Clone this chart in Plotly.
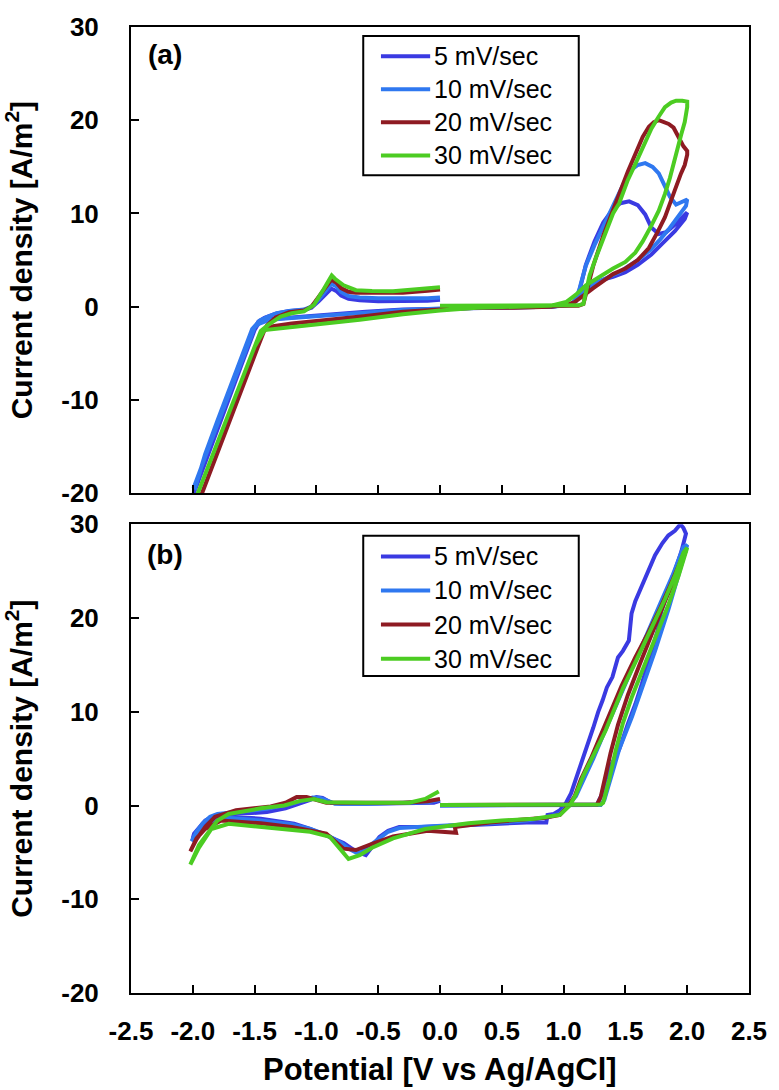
import plotly.graph_objects as go

# ---------------- data ----------------
SERIES = ["5 mV/sec", "10 mV/sec", "20 mV/sec", "30 mV/sec"]
COLORS = ["#3a3ae2", "#2f78f0", "#8e1b22", "#4ccc22"]

X_TICKS = [-2.5, -2.0, -1.5, -1.0, -0.5, 0.0, 0.5, 1.0, 1.5, 2.0, 2.5]
X_TICK_LABELS = ["-2.5", "-2.0", "-1.5", "-1.0", "-0.5", "0.0", "0.5", "1.0", "1.5", "2.0", "2.5"]
Y_TICKS = [-20, -10, 0, 10, 20, 30]
Y_TICK_LABELS = ["-20", "-10", "0", "10", "20", "30"]

# Panel (a)
A5_X = [0.0, 0.3, 0.6, 0.9, 1.05, 1.10, 1.13, 1.18, 1.25, 1.32, 1.40, 1.46, 1.53, 1.60, 1.66, 1.71, 1.77, 1.83, 1.90, 1.96, 2.00,
        1.98, 1.90, 1.80, 1.71, 1.60, 1.50, 1.40, 1.32, 1.25, 1.18, 1.12, 1.06, 0.90, 0.60, 0.30, 0.00, -0.30, -0.60, -0.90, -1.20, -1.38, -1.46,
        -1.50, -1.60, -1.70, -1.80, -1.90, -2.00,
        -1.99, -1.90, -1.80, -1.70, -1.60, -1.52, -1.47, -1.42, -1.33, -1.22, -1.10, -1.04, -0.98, -0.93, -0.88, -0.84, -0.80, -0.74, -0.65,
        -0.50, -0.30, -0.10, 0.00]
A5_Y = [0.0, 0.0, 0.0, 0.05, 0.2, 0.6, 1.8, 4.5, 7.0, 9.0, 10.5, 11.1, 11.3, 10.9, 9.9, 8.5, 7.8, 8.0, 8.8, 9.6, 10.1,
        9.4, 8.1, 6.8, 5.6, 4.5, 3.7, 3.2, 2.9, 2.5, 1.9, 1.0, 0.2, 0.0, -0.05, -0.1, -0.15, -0.3, -0.55, -0.85, -1.15, -1.35, -1.6,
        -2.5, -6.0, -9.5, -13.0, -16.5, -20.3,
        -19.9, -16.3, -12.7, -9.2, -5.7, -2.9, -1.6, -1.2, -0.75, -0.45, -0.35, -0.1, 0.6, 1.3, 1.95, 1.7, 1.2, 0.85, 0.7,
        0.6, 0.6, 0.65, 0.75]

A10_X = [0.0, 0.3, 0.6, 0.9, 1.05, 1.10, 1.13, 1.18, 1.25, 1.32, 1.40, 1.45, 1.50, 1.55, 1.60, 1.66, 1.72, 1.77, 1.82, 1.86, 1.91, 1.96, 2.00,
         1.99, 1.93, 1.85, 1.78, 1.71, 1.60, 1.50, 1.45, 1.38, 1.30, 1.24, 1.18, 1.12, 1.06, 0.90, 0.60, 0.30, 0.00, -0.30, -0.60, -0.90,
         -1.20, -1.38, -1.46, -1.50, -1.60, -1.70, -1.80, -1.90, -1.99,
         -1.98, -1.90, -1.80, -1.70, -1.60, -1.52, -1.46, -1.40, -1.32, -1.22, -1.10, -1.04, -0.98, -0.93, -0.88, -0.84, -0.80, -0.74, -0.65,
         -0.50, -0.30, -0.10, 0.00]
A10_Y = [0.0, 0.0, 0.0, 0.05, 0.2, 0.7, 2.0, 4.4, 6.6, 8.6, 10.9, 12.3, 13.6, 14.7, 15.2, 15.4, 15.0, 14.3, 13.0, 11.8, 10.95, 11.2, 11.5,
         10.8, 9.7, 8.3, 7.2, 6.2, 5.0, 4.1, 3.7, 3.3, 2.8, 2.4, 2.0, 1.1, 0.25, 0.0, -0.05, -0.1, -0.2, -0.35, -0.6, -0.9,
         -1.2, -1.4, -1.8, -2.2, -5.6, -9.1, -12.6, -16.1, -19.3,
         -19.4, -15.8, -12.2, -8.7, -5.2, -2.4, -1.5, -1.1, -0.7, -0.45, -0.3, 0.0, 0.8, 1.6, 2.45, 2.2, 1.6, 1.15, 1.0,
         0.9, 0.85, 0.9, 1.0]

A20_X = [0.0, 0.3, 0.6, 0.9, 1.05, 1.12, 1.16, 1.20, 1.24, 1.32, 1.40, 1.45, 1.52, 1.58, 1.64, 1.69, 1.73, 1.77, 1.82, 1.85, 1.89, 1.93, 1.97, 2.00, 2.00,
         1.98, 1.95, 1.90, 1.86, 1.82, 1.76, 1.69, 1.60, 1.50, 1.40, 1.32, 1.24, 1.16, 1.09, 1.02, 0.90, 0.60, 0.30, 0.00, -0.30, -0.60, -0.90,
         -1.20, -1.35, -1.42, -1.47, -1.55, -1.65, -1.75, -1.85, -1.95, -2.00,
         -1.98, -1.90, -1.80, -1.70, -1.60, -1.50, -1.44, -1.40, -1.33, -1.22, -1.10, -1.04, -0.98, -0.93, -0.88, -0.84, -0.80, -0.74, -0.68,
         -0.50, -0.30, -0.10, 0.00]
A20_Y = [0.0, 0.0, 0.0, 0.05, 0.1, 0.1, 0.3, 2.4, 4.4, 7.6, 10.5, 12.1, 14.5, 16.4, 18.2, 19.3, 19.8, 20.0, 19.8, 19.6, 19.2, 18.2, 17.2, 16.7, 16.3,
         15.2, 14.3, 12.5, 11.0, 9.6, 8.0, 6.3, 5.0, 4.1, 3.5, 2.8, 2.0, 1.2, 0.5, 0.2, 0.0, -0.1, -0.1, -0.3, -0.55, -1.0, -1.35,
         -1.8, -2.1, -2.5, -4.2, -7.0, -10.5, -13.9, -17.4, -20.9, -22.6,
         -21.9, -19.1, -15.6, -12.1, -8.6, -5.1, -3.0, -2.0, -1.15, -0.6, -0.4, 0.0, 1.0, 2.0, 2.9, 2.6, 2.0, 1.6, 1.5,
         1.45, 1.5, 1.7, 1.85]

A30_X = [0.0, 0.3, 0.6, 0.9, 1.05, 1.12, 1.16, 1.21, 1.26, 1.32, 1.40, 1.45, 1.52, 1.58, 1.65, 1.71, 1.77, 1.82, 1.87, 1.91, 1.96, 2.00,
         2.00, 1.98, 1.95, 1.90, 1.86, 1.82, 1.77, 1.71, 1.64, 1.58, 1.50, 1.40, 1.30, 1.18, 1.10, 1.02, 0.90, 0.60, 0.30, 0.00, -0.30, -0.65,
         -1.00, -1.25, -1.42, -1.50, -1.60, -1.70, -1.80, -1.90, -2.00,
         -1.98, -1.90, -1.80, -1.70, -1.60, -1.50, -1.45, -1.39, -1.29, -1.20, -1.10, -1.02, -0.98, -0.94, -0.90, -0.876, -0.85, -0.78, -0.68,
         -0.55, -0.38, -0.20, 0.00]
A30_Y = [0.1, 0.1, 0.1, 0.1, 0.15, 0.15, 0.3, 3.35, 5.2, 7.2, 10.0, 11.1, 13.6, 15.3, 17.3, 19.1, 20.4, 21.4, 21.9, 22.1, 22.1, 22.0,
         21.4, 19.8, 18.4, 15.7, 13.8, 12.1, 10.3, 8.7, 7.0, 5.8, 4.8, 4.1, 3.3, 2.3, 1.3, 0.5, 0.1, -0.05, -0.1, -0.4, -0.8, -1.4,
         -1.9, -2.3, -2.5, -4.3, -7.7, -11.1, -14.5, -18.0, -21.4,
         -20.7, -17.9, -14.4, -11.0, -7.6, -4.2, -2.6, -1.95, -1.06, -0.7, -0.5, 0.2, 1.0, 1.9, 2.8, 3.35, 3.0, 2.3, 1.77,
         1.68, 1.67, 1.85, 2.1]

# Panel (b)
B5_X = [0.0, 0.3, 0.6, 0.9, 1.1, 1.27, 1.31, 1.34, 1.38, 1.45, 1.52, 1.58, 1.634, 1.70, 1.76, 1.79, 1.85, 1.90, 1.953, 1.99,
        1.97, 1.945, 1.926, 1.90, 1.847, 1.80, 1.74, 1.66, 1.58, 1.55, 1.528, 1.48, 1.44, 1.395, 1.35, 1.315, 1.28, 1.24, 1.182, 1.15,
        1.10, 1.06, 1.02, 0.97, 0.92, 0.87, 0.86, 0.70, 0.40, 0.10, -0.15, -0.33, -0.42, -0.49, -0.55, -0.60, -0.68, -0.78, -0.92,
        -1.05, -1.18, -1.45, -1.71, -1.82, -1.93, -2.00,
        -1.99, -1.95, -1.90, -1.82, -1.70, -1.55, -1.40, -1.25, -1.15, -1.05, -1.00, -0.95, -0.88, -0.80, -0.60, -0.40, -0.20, -0.05, 0.00]
B5_Y = [0.0, 0.0, 0.0, 0.0, 0.0, 0.1, 1.2, 2.8, 4.2, 6.0, 8.7, 10.8, 13.0, 15.8, 18.6, 20.7, 23.0, 25.0, 27.1, 29.0,
        29.6, 30.0, 29.7, 29.3, 28.8, 28.0, 26.7, 24.2, 21.8, 20.5, 17.6, 16.5, 15.8, 13.7, 12.6, 11.2, 10.0, 8.3, 6.0, 4.6,
        2.8, 1.3, 0.3, -0.5, -0.9, -1.0, -1.8, -1.8, -2.0, -2.2, -2.3, -2.3, -2.7, -3.35, -4.4, -5.3, -4.9, -4.0, -3.2,
        -2.5, -1.94, -1.4, -1.2, -1.5, -2.1, -3.5,
        -3.0, -2.4, -1.6, -1.05, -0.95, -0.9, -0.7, -0.3, 0.1, 0.6, 0.9, 0.8, 0.3, 0.2, 0.2, 0.2, 0.2, 0.3, 0.5]

B10_X = [0.0, 0.3, 0.6, 0.9, 1.1, 1.30, 1.33, 1.37, 1.45, 1.554, 1.65, 1.74, 1.85, 1.926, 2.00,
         1.97, 1.88, 1.78, 1.68, 1.58, 1.48, 1.40, 1.32, 1.24, 1.16, 1.10, 1.04, 0.97, 0.85, 0.70, 0.40, 0.10, -0.15, -0.33, -0.42,
         -0.50, -0.58, -0.64, -0.68, -0.74, -0.80, -0.92, -1.05, -1.20, -1.45, -1.72, -1.85, -1.95, -2.01,
         -1.97, -1.92, -1.86, -1.80, -1.60, -1.40, -1.20, -1.10, -1.03, -0.97, -0.90, -0.85, -0.60, -0.30, -0.10, 0.00]
B10_Y = [0.0, 0.0, 0.0, 0.0, 0.0, 0.05, 0.6, 2.5, 6.0, 9.5, 13.0, 16.5, 21.0, 24.3, 27.8,
         27.6, 24.5, 21.5, 18.5, 15.5, 12.5, 10.0, 7.5, 5.0, 2.8, 1.0, 0.1, -0.9, -1.3, -1.6, -1.9, -2.1, -2.3, -2.4, -2.8,
         -3.6, -4.5, -5.0, -5.0, -4.6, -4.0, -3.1, -2.5, -2.0, -1.6, -1.3, -1.8, -2.8, -3.8,
         -2.8, -1.9, -1.2, -0.9, -0.6, -0.35, 0.2, 0.6, 0.85, 0.8, 0.4, 0.2, 0.2, 0.25, 0.35, 0.6]

B20_X = [0.0, 0.3, 0.6, 0.9, 1.1, 1.27, 1.30, 1.33, 1.38, 1.44, 1.52, 1.62, 1.72, 1.82, 1.92, 1.99,
         1.97, 1.88, 1.78, 1.68, 1.58, 1.47, 1.38, 1.30, 1.22, 1.14, 1.09, 1.04, 0.97, 0.85, 0.70, 0.40, 0.12, 0.13, -0.10, -0.38,
         -0.55, -0.68, -0.78, -0.92, -1.20, -1.45, -1.77, -1.90, -1.97, -2.02,
         -1.97, -1.90, -1.82, -1.65, -1.37, -1.25, -1.16, -1.08, -1.02, -0.92, -0.60, -0.30, -0.10, 0.00]
B20_Y = [0.05, 0.05, 0.05, 0.05, 0.05, 0.1, 0.9, 2.8, 5.6, 8.6, 11.8, 15.2, 18.6, 21.8, 24.8, 27.2,
         26.8, 24.0, 21.0, 18.3, 15.8, 12.8, 10.0, 7.6, 5.0, 2.8, 1.0, 0.0, -1.0, -1.3, -1.5, -1.8, -2.3, -2.9, -2.7, -3.3,
         -4.1, -4.75, -4.6, -3.0, -2.3, -1.9, -1.6, -2.5, -3.5, -4.9,
         -3.6, -2.3, -1.2, -0.5, -0.1, 0.3, 0.9, 0.9, 0.7, 0.3, 0.3, 0.3, 0.45, 0.7]

B30_X = [0.0, 0.3, 0.6, 0.9, 1.1, 1.30, 1.32, 1.34, 1.37, 1.42, 1.48, 1.55, 1.65, 1.75, 1.85, 1.93, 2.00,
         1.97, 1.90, 1.82, 1.70, 1.60, 1.48, 1.40, 1.34, 1.25, 1.16, 1.10, 1.05, 0.97, 0.76, 0.50, 0.23, 0.00, -0.12, -0.38,
         -0.55, -0.65, -0.74, -0.81, -0.89, -1.05, -1.45, -1.71, -1.85, -1.95, -2.02,
         -1.95, -1.87, -1.80, -1.71, -1.45, -1.26, -1.13, -1.02, -0.92, -0.60, -0.25, -0.12, -0.01]
B30_Y = [0.05, 0.05, 0.05, 0.05, 0.05, 0.1, 0.3, 1.2, 2.8, 5.8, 8.8, 11.5, 14.8, 18.0, 21.5, 24.5, 27.5,
         27.0, 24.5, 22.0, 18.5, 15.8, 12.5, 10.0, 8.0, 5.6, 3.2, 1.2, 0.0, -1.0, -1.4, -1.6, -1.9, -2.3, -2.5, -3.5,
         -4.5, -5.3, -5.7, -4.6, -3.35, -2.8, -2.3, -1.94, -2.5, -4.5, -6.3,
         -4.2, -2.8, -1.6, -0.9, -0.3, 0.0, 0.5, 0.7, 0.35, 0.3, 0.3, 0.7, 1.5]

PANEL_A = [(A5_X, A5_Y), (A10_X, A10_Y), (A20_X, A20_Y), (A30_X, A30_Y)]
PANEL_B = [(B5_X, B5_Y), (B10_X, B10_Y), (B20_X, B20_Y), (B30_X, B30_Y)]

# ---------------- figure ----------------
FONT = "Liberation Sans, Arial, sans-serif"
W, H = 779, 1090
ML, MR, MT, MB = 131, 20, 15, 97
PW = W - ML - MR
PH = H - MT - MB

fig = go.Figure()
for (x, y), name, col in zip(PANEL_A, SERIES, COLORS):
    fig.add_trace(go.Scatter(x=x, y=y, mode="lines", name=name, line=dict(color=col, width=4),
                             xaxis="x", yaxis="y", showlegend=False))
for (x, y), name, col in zip(PANEL_B, SERIES, COLORS):
    fig.add_trace(go.Scatter(x=x, y=y, mode="lines", name=name, line=dict(color=col, width=4),
                             xaxis="x2", yaxis="y2", showlegend=False))

def py2paper(py):
    return (H - MB - py) / PH

def px2paper(px):
    return (px - ML) / PW

tick_font = dict(family=FONT, size=26, color="black", weight="bold")
ytitle_font = dict(family=FONT, size=30, color="black", weight="bold")
xtitle_font = dict(family=FONT, size=31, color="black", weight="bold")
legend_font = dict(family=FONT, size=25, color="black")
panel_font = dict(family=FONT, size=28, color="black", weight="bold")

common_axis = dict(showline=True, mirror=True, linewidth=2, linecolor="black", ticks="inside",
                   ticklen=8, tickwidth=2, tickcolor="black", showgrid=False, zeroline=False,
                   tickfont=tick_font)

YTITLE = "Current density [A/m<sup>2</sup>]"

shapes = []
annotations = [
    dict(text="(a)", x=px2paper(166), y=py2paper(43), xref="paper", yref="paper",
         xanchor="center", yanchor="middle", showarrow=False, font=panel_font),
    dict(text="(b)", x=px2paper(166), y=py2paper(549), xref="paper", yref="paper",
         xanchor="center", yanchor="middle", showarrow=False, font=panel_font),
    dict(text="Potential [V vs Ag/AgCl]", x=0.5, y=py2paper(1070), xref="paper", yref="paper",
         xanchor="center", yanchor="middle", showarrow=False, font=xtitle_font),
]

# legend boxes (one per panel): box pixel extents and the row centre of each entry
LEGENDS = [
    dict(box=(367, 24, 586, 165), rows=[44.5, 78.0, 111.5, 145.0]),
    dict(box=(367, 530, 586, 672), rows=[551.0, 585.5, 620.0, 654.5]),
]
for lg in LEGENDS:
    x0, y0, x1, y1 = lg["box"]
    shapes.append(dict(type="rect", xref="paper", yref="paper",
                       x0=px2paper(x0), x1=px2paper(x1), y0=py2paper(y1), y1=py2paper(y0),
                       line=dict(color="black", width=2), fillcolor="white", layer="above"))
    for name, col, ry in zip(SERIES, COLORS, lg["rows"]):
        shapes.append(dict(type="line", xref="paper", yref="paper",
                           x0=px2paper(385), x1=px2paper(435), y0=py2paper(ry), y1=py2paper(ry),
                           line=dict(color=col, width=4), layer="above"))
        annotations.append(dict(text=name, x=px2paper(437), y=py2paper(ry), xref="paper", yref="paper",
                                xanchor="left", yanchor="middle", showarrow=False, font=legend_font))

fig.update_layout(
    width=W, height=H,
    margin=dict(l=ML, r=MR, t=MT, b=MB),
    paper_bgcolor="white", plot_bgcolor="white",
    showlegend=False,
    xaxis=dict(common_axis, domain=[0, 1], anchor="y", range=[-2.5, 2.5], tickvals=X_TICKS,
               ticktext=X_TICK_LABELS, showticklabels=False),
    yaxis=dict(common_axis, domain=[py2paper(487), 1.0], anchor="x", range=[-20, 30], tickvals=Y_TICKS,
               ticktext=Y_TICK_LABELS, ticklabelstandoff=25,
               title=dict(text=YTITLE, font=ytitle_font, standoff=26)),
    xaxis2=dict(common_axis, domain=[0, 1], anchor="y2", range=[-2.5, 2.5], tickvals=X_TICKS,
                ticktext=X_TICK_LABELS, ticklabelstandoff=14),
    yaxis2=dict(common_axis, domain=[0.0, py2paper(518.5)], anchor="x2", range=[-20, 30], tickvals=Y_TICKS,
                ticktext=Y_TICK_LABELS, ticklabelstandoff=25,
                title=dict(text=YTITLE, font=ytitle_font, standoff=26)),
    shapes=shapes,
    annotations=annotations,
)

# remove the browser's default 8px page margin so the figure sits at the window origin
fig.write_html("out.html", config={"displayModeBar": False},
               post_script="document.body.style.margin='0px';")
